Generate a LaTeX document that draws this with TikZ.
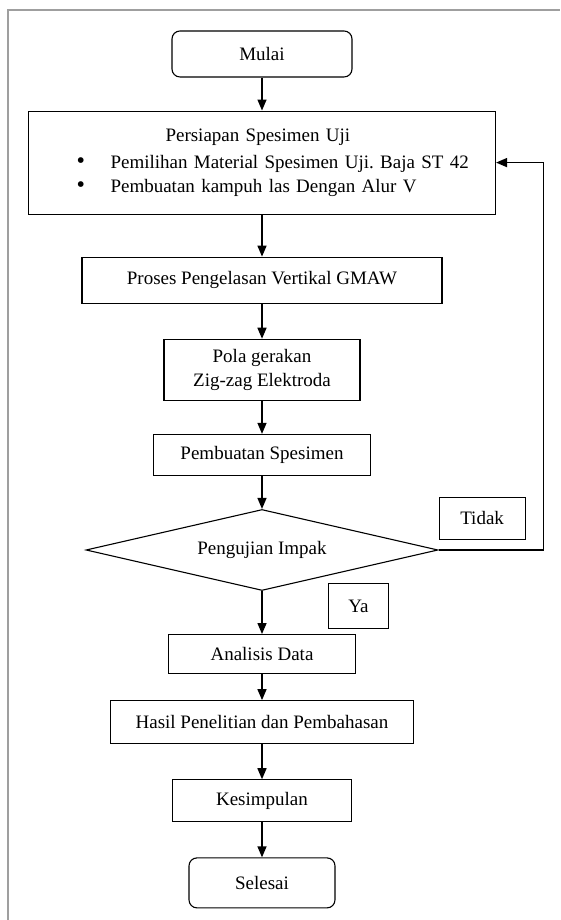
\documentclass[tikz,border=0pt]{standalone}
\usepackage{fontspec}
\setmainfont{Liberation Serif}
\usetikzlibrary{positioning,shapes.geometric,arrows.meta}

\tikzset{
  stepbox/.style={draw, line width=1.1pt, inner sep=0pt, align=center},
  startbox/.style={stepbox, rounded corners=8pt},
  decisionbox/.style={draw, line width=1.1pt, diamond, aspect=4.3, inner sep=0pt,
    minimum width=352pt, minimum height=81pt},
  labelbox/.style={draw, line width=1.1pt, inner sep=0pt},
  arr/.style={line width=1.4pt, -{Triangle[length=11pt,width=9pt]}},
  frameline/.style={draw=gray!75, line width=1.3pt}
}
\newcommand{\bulletitem}{\hspace*{48pt}\makebox[34pt][l]{\fontsize{24}{24}\selectfont\textbullet}}

\begin{document}
\begin{tikzpicture}[x=1pt, y=1pt, font=\fontsize{19}{24}\selectfont]
  \useasboundingbox (0,0) rectangle (560,920);
  % outer frame
  \draw[frameline] (8,0) -- (8,910) -- (560,910);

  \node[startbox, minimum width=180pt, minimum height=46pt] (mulai) at (262,866) {Mulai};
  \node[stepbox, below=33pt of mulai, minimum width=467pt, minimum height=103pt,
        text width=467pt, align=left] (persiapan)
    {\hspace*{137pt}Persiapan Spesimen Uji\\[3pt]
     \bulletitem Pemilihan Material Spesimen Uji.\ Baja ST 42\\
     \bulletitem Pembuatan kampuh las Dengan Alur V};
  \node[stepbox, below=42pt of persiapan, minimum width=360pt, minimum height=46pt] (proses)
    {Proses Pengelasan Vertikal GMAW};
  \node[stepbox, below=35pt of proses, minimum width=196pt, minimum height=61pt] (zigzag)
    {Pola gerakan\\Zig-zag Elektroda};
  \node[stepbox, below=33pt of zigzag, minimum width=217pt, minimum height=41pt] (spesimen)
    {Pembuatan Spesimen};
  \node[decisionbox, below=33pt of spesimen] (uji) {Pengujian Impak};
  \node[stepbox, below=43pt of uji, minimum width=187pt, minimum height=39pt] (analisis)
    {Analisis Data};
  \node[stepbox, below=26pt of analisis, minimum width=303pt, minimum height=43pt] (hasil)
    {Hasil Penelitian dan Pembahasan};
  \node[stepbox, below=35pt of hasil, minimum width=179pt, minimum height=42pt] (kesimpulan)
    {Kesimpulan};
  \node[startbox, below=35pt of kesimpulan, minimum width=146pt, minimum height=50pt] (selesai)
    {Selesai};

  % branch labels
  \node[labelbox, anchor=south west, minimum width=86pt, minimum height=42pt] (tidak)
    at ([yshift=10pt]uji.east) {Tidak};
  \node[labelbox, anchor=north west, minimum width=60pt, minimum height=45pt] (ya)
    at ([xshift=66pt, yshift=8pt]uji.south) {Ya};

  \draw[arr] (mulai) -- (persiapan);
  \draw[arr] (persiapan) -- (proses);
  \draw[arr] (proses) -- (zigzag);
  \draw[arr] (zigzag) -- (spesimen);
  \draw[arr] (spesimen) -- (uji);
  \draw[arr] (uji) -- (analisis);
  \draw[arr] (analisis) -- (hasil);
  \draw[arr] (hasil) -- (kesimpulan);
  \draw[arr] (kesimpulan) -- (selesai);
  \draw[arr] (uji.east) -- ++(105,0) |- (persiapan.east);
\end{tikzpicture}
\end{document}
